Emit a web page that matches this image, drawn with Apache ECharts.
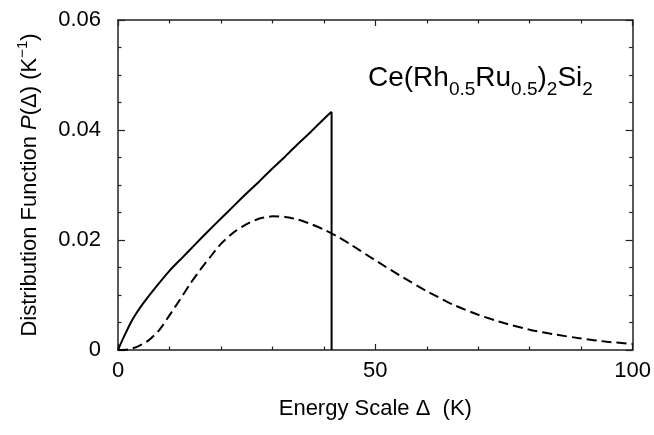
<!DOCTYPE html>
<html>
<head>
<meta charset="utf-8">
<script src="https://cdn.jsdelivr.net/npm/echarts@6/dist/echarts.min.js"></script>
<style>
  html, body { margin: 0; padding: 0; background: #fff; }
  #chart { width: 654px; height: 435px; }
</style>
</head>
<body>
<div id="chart"></div>
<script>
// solid curve
const solidX = [0, 1, 2.5, 3.5, 5, 7.5, 10, 12.5, 15, 17.5, 20, 22.5, 25, 27.5, 30, 32.5, 35, 37.5, 40, 41.5]
const solidY = [0, 0.0021, 0.0050, 0.0066, 0.0086, 0.0116, 0.0144, 0.0168, 0.0192, 0.0216, 0.0239, 0.0262, 0.0285, 0.0307, 0.0330, 0.0352, 0.0375, 0.0397, 0.0420, 0.0433]

// vertical cut-off of the solid curve
const cutX = [41.5, 41.5]
const cutY = [0.0433, 0]

// dashed curve
const dashX = [0, 2, 4, 6, 8, 10, 12, 14, 16, 18, 20, 22.5, 25, 27.5, 30, 32.5, 35, 37.5, 40, 42.5, 45, 50, 55, 60, 65, 70, 75, 80, 85, 90, 95, 100]
const dashY = [0, 0.0001, 0.0007, 0.0018, 0.0036, 0.0063, 0.0091, 0.0120, 0.0146, 0.0170, 0.0193, 0.0214, 0.0229, 0.0239, 0.0243, 0.0242, 0.0237, 0.0229, 0.0219, 0.0207, 0.0193, 0.0163, 0.0134, 0.0107, 0.0083, 0.0064, 0.0049, 0.0037, 0.0028, 0.0021, 0.0015, 0.0011]

const xTicks = { min: 0, max: 100, interval: 50 }
const yTicks = { min: 0, max: 0.06, interval: 0.02 }

const font = 'Liberation Sans'
const axisColor = '#222'

function pairs(xs, ys) {
  return xs.map((x, i) => [x, ys[i]])
}

function xAxisOf(pos, showLabel) {
  return {
    type: 'value',
    position: pos,
    min: xTicks.min,
    max: xTicks.max,
    interval: xTicks.interval,
    axisLine: { show: true, onZero: false, lineStyle: { color: axisColor, width: 1.5 } },
    axisTick: { show: true, inside: true, length: 6, lineStyle: { color: axisColor, width: 1.2 } },
    minorTick: { show: true, splitNumber: 5, length: 3.5, lineStyle: { color: axisColor, width: 1.2 } },
    splitLine: { show: false },
    axisLabel: { show: showLabel, margin: 10, color: '#000', fontSize: 22, fontFamily: font }
  }
}

function yAxisOf(pos, showLabel) {
  return {
    type: 'value',
    position: pos,
    min: yTicks.min,
    max: yTicks.max,
    interval: yTicks.interval,
    axisLine: { show: true, onZero: false, lineStyle: { color: axisColor, width: 1.5 } },
    axisTick: { show: true, inside: true, length: 7, lineStyle: { color: axisColor, width: 1.2 } },
    minorTick: { show: true, splitNumber: 4, length: 3.5, lineStyle: { color: axisColor, width: 1.2 } },
    splitLine: { show: false },
    axisLabel: { show: showLabel, margin: 17, color: '#000', fontSize: 22, fontFamily: font }
  }
}

const xBottom = xAxisOf('bottom', true)
xBottom.name = 'Energy Scale \u0394  (K)'
xBottom.nameLocation = 'middle'
xBottom.nameGap = 48
xBottom.nameTextStyle = { color: '#000', fontSize: 22, fontFamily: font }

const yLeft = yAxisOf('left', true)
yLeft.name = 'Distribution Function {i|P}(\u0394) (K{sup|\u22121})'
yLeft.nameLocation = 'middle'
yLeft.nameGap = 73
yLeft.nameTextStyle = {
  color: '#000', fontSize: 22, fontFamily: font, lineHeight: 30,
  rich: {
    i: { fontStyle: 'italic', fontSize: 22, fontFamily: font, color: '#000', lineHeight: 30 },
    sup: { fontSize: 15, fontFamily: font, color: '#000', lineHeight: 15, verticalAlign: 'top' }
  }
}

const option = {
  backgroundColor: '#fff',
  animation: false,
  title: {
    text: 'Ce(Rh{sub|0.5}Ru{sub|0.5}){sub|2}Si{sub|2}',
    left: 368,
    top: 57,
    padding: 0,
    textStyle: {
      color: '#000', fontSize: 28, fontWeight: 'normal', fontFamily: font, lineHeight: 42,
      rich: {
        sub: { fontSize: 19, fontFamily: font, color: '#000', lineHeight: 19, verticalAlign: 'bottom' }
      }
    }
  },
  grid: { left: 118, right: 18, top: 20, bottom: 85 },
  xAxis: [xBottom, xAxisOf('top', false)],
  yAxis: [yLeft, yAxisOf('right', false)],
  series: [
    {
      name: 'solid',
      type: 'line',
      data: pairs(solidX, solidY),
      smooth: 0.2,
      symbol: 'none',
      lineStyle: { color: '#000', width: 2 }
    },
    {
      name: 'cutoff',
      type: 'line',
      data: pairs(cutX, cutY),
      symbol: 'none',
      lineStyle: { color: '#000', width: 2 }
    },
    {
      name: 'dashed',
      type: 'line',
      data: pairs(dashX, dashY),
      smooth: 0.2,
      symbol: 'none',
      lineStyle: { color: '#000', width: 2, type: [10, 5] }
    }
  ]
}

const chart = echarts.init(document.getElementById('chart'))
chart.setOption(option)
</script>
</body>
</html>
